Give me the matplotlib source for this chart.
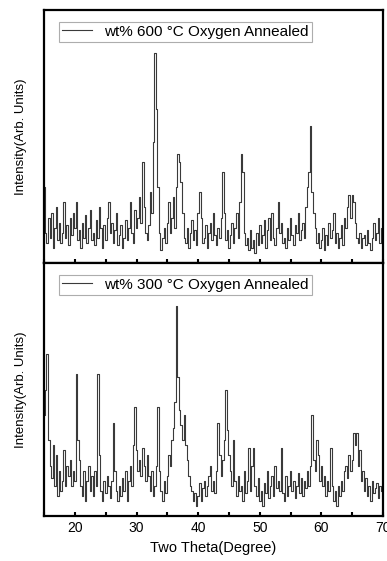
import numpy as np
import matplotlib
matplotlib.use('Agg')
import matplotlib.pyplot as plt
from matplotlib.ticker import MultipleLocator

plt.rcParams['font.family'] = ['Liberation Sans', 'DejaVu Sans']

# 2-theta grid, 0.25 degree step
two_theta = np.arange(15, 70.001, 0.25)

# 600 C oxygen annealed (arb. units)
i_600 = [
    30, 12, 8, 18,  10, 20, 6, 14,  22, 9, 16, 8,  12, 24, 10, 15,
    7, 18, 11, 20,  14, 24, 9, 13,  6, 16, 10, 19,  8, 14, 21, 9,
    12, 7, 17, 10,  22, 14, 6, 15,  9, 18, 24, 12,  16, 8, 13, 20,
    7, 11, 15, 6,  10, 17, 9, 14,  24, 12, 8, 21,  14, 18, 26, 16,
    40, 22, 12, 9,  15, 28, 20, 48,  83, 61, 30, 12,  5, 10, 14, 8,
    16, 24, 12, 18,  26, 14, 30, 43,  40, 32, 20, 10,  8, 14, 6, 12,
    17, 9, 13, 7,  20, 28, 18, 8,  10, 15, 6, 12,  16, 9, 20, 11,
    7, 14, 10, 18,  36, 20, 9, 13,  6, 11, 16, 8,  14, 20, 10, 24,
    43, 36, 12, 7,  10, 5, 13, 6,  9, 4, 12, 7,  15, 8, 11, 17,
    6, 13, 18, 9,  20, 10, 7, 14,  24, 12, 16, 8,  10, 6, 14, 9,
    18, 11, 7, 15,  12, 20, 9, 13,  16, 10, 22, 30,  36, 54, 28, 20,
    14, 8, 12, 6,  9, 14, 5, 11,  7, 16, 10, 13,  20, 8, 12, 6,
    10, 15, 7, 18,  14, 22, 27, 18,  27, 24, 16, 10,  8, 12, 6, 10,
    11, 7, 13, 8,  5, 10, 16, 9,  12, 18, 8, 14,  10,
]

# 300 C oxygen annealed
i_300 = [
    40, 50, 64, 30,  20, 15, 28, 12,  24, 8, 18, 10,  14, 26, 12, 20,
    16, 22, 12, 18,  14, 56, 30, 22,  12, 8, 18, 6,  14, 20, 10, 16,
    8, 18, 12, 56,  24, 10, 6, 14,  9, 16, 12, 7,  14, 37, 18, 10,
    6, 12, 8, 15,  10, 18, 6, 14,  20, 12, 28, 43,  26, 18, 22, 16,
    27, 20, 14, 24,  16, 10, 18, 8,  12, 20, 43, 18,  10, 6, 14, 9,
    16, 24, 20, 30,  35, 45, 83, 55,  42, 36, 30, 40,  28, 22, 16, 12,
    10, 6, 9, 4,  8, 13, 6, 11,  14, 8, 12, 16,  20, 10, 14, 9,
    18, 37, 24, 16,  22, 30, 50, 34,  24, 18, 12, 30,  14, 8, 16, 10,
    12, 6, 18, 9,  14, 27, 10, 20,  27, 12, 8, 15,  6, 10, 4, 13,
    9, 18, 7, 12,  16, 8, 20, 11,  14, 10, 27, 9,  6, 16, 8, 12,
    18, 10, 14, 7,  12, 17, 9, 15,  8, 14, 11, 18,  12, 20, 40, 22,
    18, 30, 24, 14,  20, 12, 16, 8,  14, 10, 27, 12,  6, 10, 4, 12,
    8, 14, 10, 18,  20, 15, 24, 18,  22, 33, 28, 33,  20, 26, 14, 18,
    10, 15, 8, 12,  6, 14, 9, 11,  13, 7, 12, 10,  11,
]

series = [
    (i_600, "wt% 600 \u00b0C Oxygen Annealed"),
    (i_300, "wt% 300 \u00b0C Oxygen Annealed"),
]

fig = plt.figure(figsize=(3.87, 5.61), dpi=100)
left, width, h = 0.114, 0.876, 0.451
bottoms = [0.531, 0.080]

for k, ((vals, label), b) in enumerate(zip(series, bottoms)):
    ax = fig.add_axes([left, b, width, h])
    ax.plot(two_theta, vals, color='#3a3a3a', linewidth=0.8,
            drawstyle='steps-mid', label=label)
    ax.set_xlim(15, 70)
    ax.set_ylim(0, 100)
    ax.set_yticks([])
    ax.xaxis.set_major_locator(MultipleLocator(10))
    ax.xaxis.set_minor_locator(MultipleLocator(5))
    ax.tick_params(axis='x', which='both', direction='in', length=3,
                   width=1.5, labelsize=10)
    for s in ax.spines.values():
        s.set_linewidth(1.6)
    ax.set_ylabel('Intensity(Arb. Units)', fontsize=9.5, labelpad=12)
    if k == 0:
        ax.tick_params(axis='x', labelbottom=False)
    else:
        ax.set_xlabel('Two Theta(Degree)', fontsize=10.5)
    leg = ax.legend(loc='upper left', fontsize=11, handlelength=2.0,
                    frameon=True, fancybox=False, borderpad=0.2,
                    bbox_to_anchor=(0.02, 0.985))
    leg.get_frame().set_edgecolor('#999999')
    leg.get_frame().set_linewidth(0.8)

fig.savefig('out.png', dpi=100)
